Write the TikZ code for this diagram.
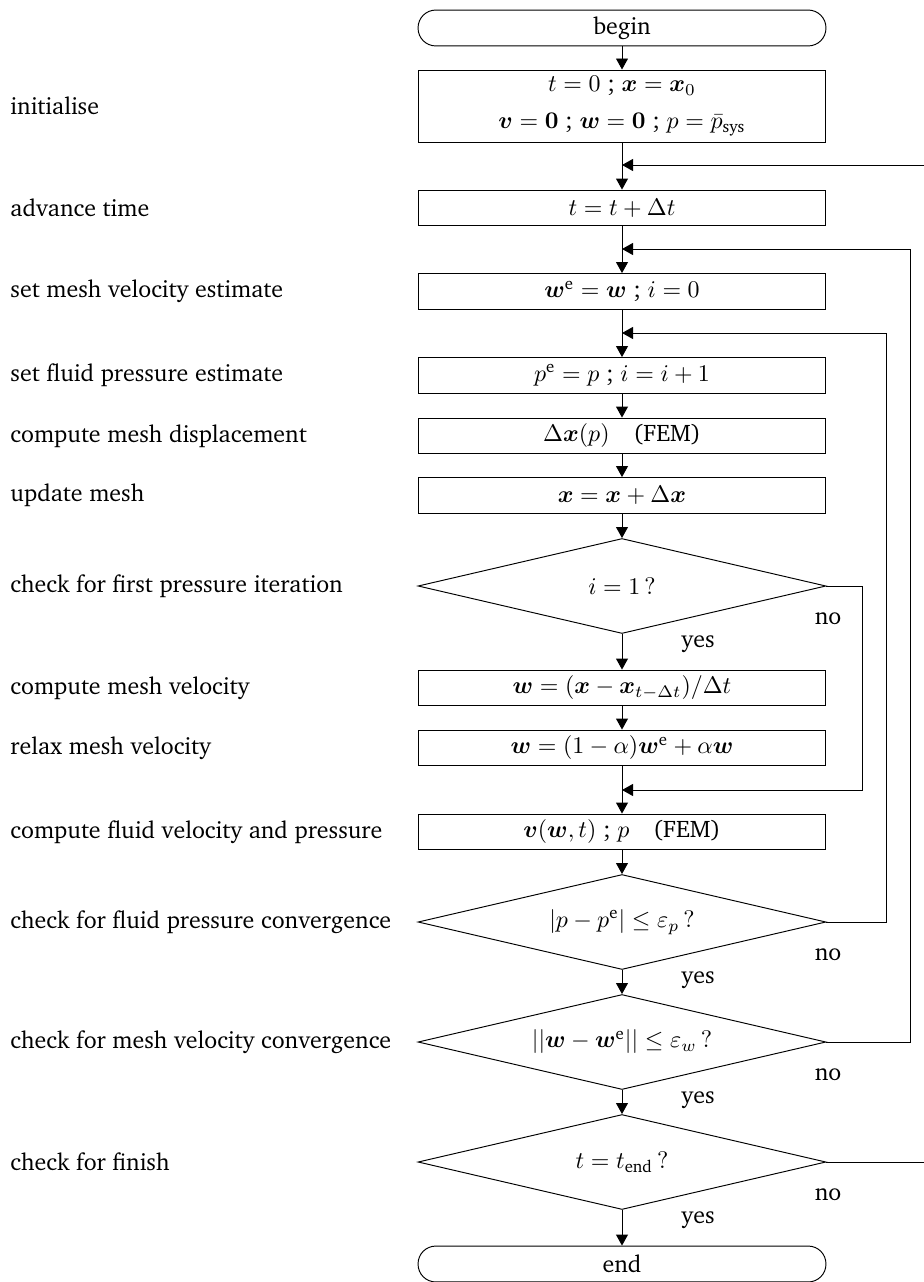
\documentclass[tikz,border=0pt]{standalone}
\usepackage[T1]{fontenc}
\usepackage{charter}
\usepackage{amsmath}
\usetikzlibrary{arrows.meta,shapes.geometric}
\newcommand{\bv}[1]{\boldsymbol{#1}}
\newcommand{\flowbox}[4]{\node[flowbox] (#1) at (622,#2) {#3};\node[steptext] (#1txt) at (10,#2) {#4};}
\newcommand{\flowtest}[4]{\node[flowtest] (#1) at (622,#2) {#3};\node[steptext] (#1txt) at (10,#2) {#4};
\node[anchor=base west] (#1yes) at ([shift={(51,14)}]#1.south) {yes};
\node[anchor=base west] (#1no) at ([shift={(-20,38)}]#1.east) {no};}

\begin{document}
\begin{tikzpicture}[x=0.418pt,y=-0.418pt,
  flowbox/.style={draw,rectangle,minimum width=170.5pt,minimum height=15pt,inner sep=0pt},
  flowend/.style={draw,rectangle,rounded corners=7.4pt,minimum width=170.5pt,minimum height=15pt,inner sep=0pt},
  flowtest/.style={draw,diamond,shape aspect=4.3,minimum width=170.5pt,minimum height=39.7pt,inner sep=0pt},
  steptext/.style={anchor=west,inner sep=0pt},
  arr/.style={-{Triangle[length=4.6pt,width=5pt]}}]
\useasboundingbox (0,0) rectangle (923,1282);
\node[flowend] (begin) at (622,28) {begin};
\node[draw,rectangle,minimum width=170.5pt,minimum height=30.1pt,inner sep=0pt,align=center] (init) at (622,106)
  {$t=0$ ; $\bv{x}=\bv{x}_0$\\[3.5pt] $\bv{v}=\bv{0}$ ; $\bv{w}=\bv{0}$ ; $p=\bar{p}_{\text{sys}}$};
\node[steptext] (inittxt) at (10,106) {initialise};
\flowbox{adv}{208}{$t=t+\Delta t$}{advance time}
\flowbox{mesh}{291.5}{$\bv{w}^{\text{e}}=\bv{w}$ ; $i=0$}{set mesh velocity estimate}
\flowbox{pest}{375.5}{$p^{\text{e}}=p$ ; $i=i+1$}{set fluid pressure estimate}
\flowbox{disp}{436}{$\Delta\bv{x}(p)$\quad (FEM)}{compute mesh displacement}
\flowbox{upd}{495.5}{$\bv{x}=\bv{x}+\Delta\bv{x}$}{update mesh}
\flowtest{first}{586}{$i=1\,?$}{check for first pressure iteration}
\flowbox{mvel}{688}{$\bv{w}=(\bv{x}-\bv{x}_{t-\Delta t})/\Delta t$}{compute mesh velocity}
\flowbox{relax}{748}{$\bv{w}=(1-\alpha)\bv{w}^{\text{e}}+\alpha\bv{w}$}{relax mesh velocity}
\flowbox{fluid}{832}{$\bv{v}(\bv{w},t)$ ; $p$\quad (FEM)}{compute fluid velocity and pressure}
\flowtest{pconv}{922}{$|p-p^{\text{e}}|\le\varepsilon_p\,?$}{check for fluid pressure convergence}
\flowtest{wconv}{1042}{$||\bv{w}-\bv{w}^{\text{e}}||\le\varepsilon_w\,?$}{check for mesh velocity convergence}
\flowtest{finish}{1162}{$t=t_{\text{end}}\,?$}{check for finish}
\node[flowend] (end) at (622,1264) {end};
% merge points on the main line
\coordinate (m1) at (622,165);
\coordinate (m2) at (622,249);
\coordinate (m3) at (622,333);
\coordinate (m4) at (622,790);
% main line
\draw[arr] (begin) -- (init);
\draw[arr] (init) -- (adv);
\draw[arr] (adv) -- (mesh);
\draw[arr] (mesh) -- (pest);
\draw[arr] (pest) -- (disp);
\draw[arr] (disp) -- (upd);
\draw[arr] (upd) -- (first);
\draw[arr] (first) -- (mvel);
\draw[arr] (mvel) -- (relax);
\draw[arr] (relax) -- (fluid);
\draw[arr] (fluid) -- (pconv);
\draw[arr] (pconv) -- (wconv);
\draw[arr] (wconv) -- (finish);
\draw[arr] (finish) -- (end);
% loops
\draw[arr] (first.east) -- ++(36,0) |- (m4);
\draw[arr] (pconv.east) -- ++(60,0) |- (m3);
\draw[arr] (wconv.east) -- ++(84,0) |- (m2);
\draw[arr] (finish.east) -- ++(102,0) |- (m1);
\end{tikzpicture}
\end{document}
